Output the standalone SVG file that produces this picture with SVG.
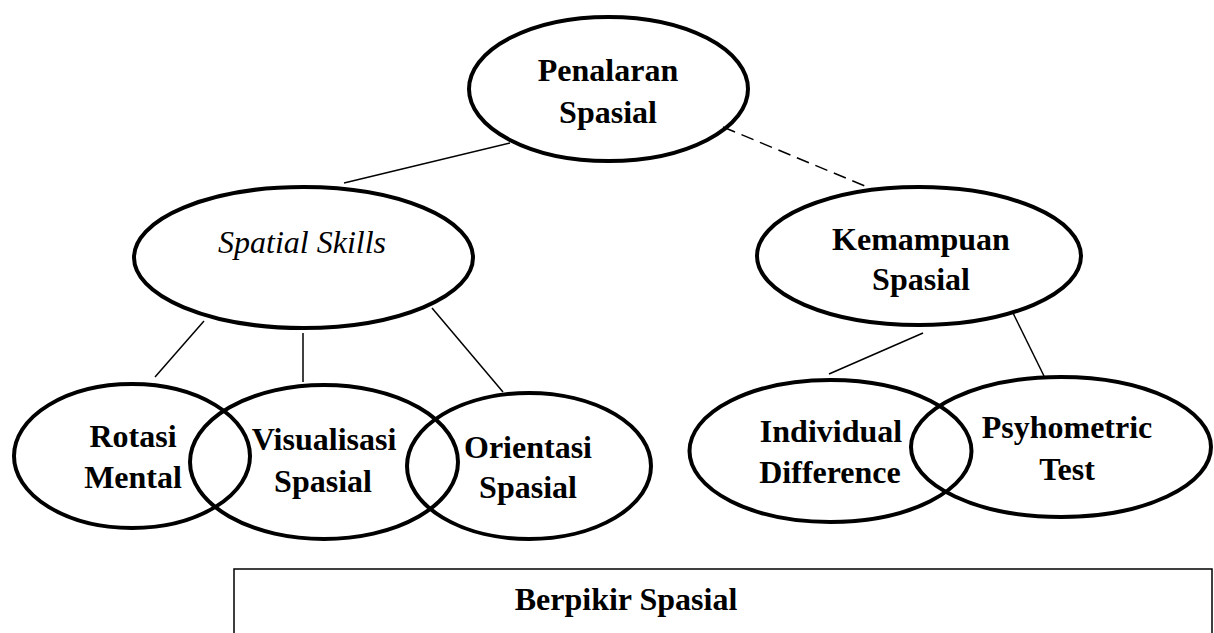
<svg xmlns="http://www.w3.org/2000/svg" width="1214" height="633" viewBox="0 0 1214 633">
<defs>
<style>
.node { fill: none; stroke: #000; stroke-width: 4; }
.lbl { font-family: "Liberation Serif", "Times New Roman", serif; font-size: 32px; font-weight: bold; fill: #000; text-anchor: middle; }
.ital { font-weight: normal; font-style: italic; }
.conn { stroke: #000; stroke-width: 1.5; fill: none; }
.dash { stroke-dasharray: 13 7; }
</style>
</defs>
<rect x="0" y="0" width="1214" height="633" fill="#fff"/>
<g id="connectors">
<line class="conn" x1="510" y1="143" x2="344" y2="183"/>
<line class="conn dash" x1="723" y1="127" x2="865" y2="186"/>
<line class="conn" x1="204" y1="321" x2="155" y2="377"/>
<line class="conn" x1="303" y1="333" x2="303" y2="382"/>
<line class="conn" x1="432" y1="308" x2="503" y2="392"/>
<line class="conn" x1="923" y1="333" x2="829" y2="374"/>
<line class="conn" x1="1013" y1="313" x2="1044" y2="376"/>
</g>
<g id="penalaran">
<ellipse class="node" cx="608.5" cy="89" rx="139.5" ry="72"/>
<text class="lbl" x="608" y="81">Penalaran</text>
<text class="lbl" x="608" y="123">Spasial</text>
</g>
<g id="spatial-skills">
<ellipse class="node" cx="303.5" cy="257.5" rx="169.5" ry="70.5"/>
<text class="lbl ital" x="302" y="253">Spatial Skills</text>
</g>
<g id="kemampuan">
<ellipse class="node" cx="919" cy="256" rx="162" ry="69"/>
<text class="lbl" x="921" y="250">Kemampuan</text>
<text class="lbl" x="921" y="290">Spasial</text>
</g>
<g id="rotasi">
<ellipse class="node" cx="132" cy="456" rx="118" ry="72"/>
<text class="lbl" x="133" y="447">Rotasi</text>
<text class="lbl" x="133" y="488">Mental</text>
</g>
<g id="visualisasi">
<ellipse class="node" cx="324" cy="462" rx="134" ry="77"/>
<text class="lbl" x="324" y="450">Visualisasi</text>
<text class="lbl" x="323" y="492">Spasial</text>
</g>
<g id="orientasi">
<ellipse class="node" cx="529" cy="466" rx="122" ry="73"/>
<text class="lbl" x="528" y="458">Orientasi</text>
<text class="lbl" x="528" y="498">Spasial</text>
</g>
<g id="individual">
<ellipse class="node" cx="830.5" cy="451" rx="141" ry="71"/>
<text class="lbl" x="831" y="442">Individual</text>
<text class="lbl" x="830" y="483">Difference</text>
</g>
<g id="psyhometric">
<ellipse class="node" cx="1061" cy="447" rx="150" ry="70"/>
<text class="lbl" x="1067" y="438">Psyhometric</text>
<text class="lbl" x="1067" y="480">Test</text>
</g>
<g id="berpikir">
<path d="M234,640 V569 H1212 V640" fill="none" stroke="#000" stroke-width="1.5"/>
<text class="lbl" x="626" y="610">Berpikir Spasial</text>
</g>
</svg>
